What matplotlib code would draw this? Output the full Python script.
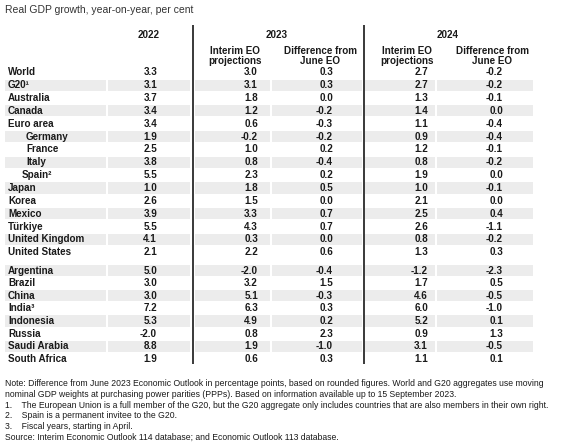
import matplotlib
matplotlib.use("Agg")
import matplotlib.pyplot as plt
from matplotlib.patches import Rectangle

plt.rcParams['font.family'] = ['Liberation Sans', 'DejaVu Sans']

title = "Real GDP growth, year-on-year, per cent"

# G20 members and aggregates
group1 = ["World", "G20\u00b9", "Australia", "Canada", "Euro area", "Germany", "France",
          "Italy", "Spain\u00b2", "Japan", "Korea", "Mexico", "T\u00fcrkiye",
          "United Kingdom", "United States"]
g1_2022 = [3.3, 3.1, 3.7, 3.4, 3.4, 1.9, 2.5, 3.8, 5.5, 1.0, 2.6, 3.9, 5.5, 4.1, 2.1]
g1_2023 = [3.0, 3.1, 1.8, 1.2, 0.6, -0.2, 1.0, 0.8, 2.3, 1.8, 1.5, 3.3, 4.3, 0.3, 2.2]
g1_d2023 = [0.3, 0.3, 0.0, -0.2, -0.3, -0.2, 0.2, -0.4, 0.2, 0.5, 0.0, 0.7, 0.7, 0.0, 0.6]
g1_2024 = [2.7, 2.7, 1.3, 1.4, 1.1, 0.9, 1.2, 0.8, 1.9, 1.0, 2.1, 2.5, 2.6, 0.8, 1.3]
g1_d2024 = [-0.2, -0.2, -0.1, 0.0, -0.4, -0.4, -0.1, -0.2, 0.0, -0.1, 0.0, 0.4, -1.1, -0.2, 0.3]
indented = ["Germany", "France", "Italy", "Spain\u00b2"]

group2 = ["Argentina", "Brazil", "China", "India\u00b3", "Indonesia", "Russia",
          "Saudi Arabia", "South Africa"]
g2_2022 = [5.0, 3.0, 3.0, 7.2, 5.3, -2.0, 8.8, 1.9]
g2_2023 = [-2.0, 3.2, 5.1, 6.3, 4.9, 0.8, 1.9, 0.6]
g2_d2023 = [-0.4, 1.5, -0.3, 0.3, 0.2, 2.3, -1.0, 0.3]
g2_2024 = [-1.2, 1.7, 4.6, 6.0, 5.2, 0.9, 3.1, 1.1]
g2_d2024 = [-2.3, 0.5, -0.5, -1.0, 0.1, 1.3, -0.5, 0.1]

notes = [
    "Note: Difference from June 2023 Economic Outlook in percentage points, based on rounded figures. World and G20 aggregates use moving",
    "nominal GDP weights at purchasing power parities (PPPs). Based on information available up to 15 September 2023.",
    "1.    The European Union is a full member of the G20, but the G20 aggregate only includes countries that are also members in their own right.",
    "2.    Spain is a permanent invitee to the G20.",
    "3.    Fiscal years, starting in April.",
    "Source: Interim Economic Outlook 114 database; and Economic Outlook 113 database.",
]

W, H = 566, 446
fig = plt.figure(figsize=(W / 100, H / 100), dpi=100)
ax = fig.add_axes([0, 0, 1, 1])
ax.set_xlim(0, W)
ax.set_ylim(H, 0)
ax.axis('off')

txt = '#1a1a1a'
band = '#ececec'
fs = 7.1

ax.text(5, 10, title, fontsize=7.5, color='#333333', va='center', ha='left')

# headers
ax.text(149, 35, "2022", fontsize=fs, weight='bold', ha='center', va='center', color=txt)
ax.text(277, 35, "2023", fontsize=fs, weight='bold', ha='center', va='center', color=txt)
ax.text(448, 35, "2024", fontsize=fs, weight='bold', ha='center', va='center', color=txt)
for cx, l1, l2 in [(235, "Interim EO", "projections"), (320, "Difference from", "June EO"),
                   (407, "Interim EO", "projections"), (492, "Difference from", "June EO")]:
    ax.text(cx, 50.5, l1, fontsize=fs, weight='bold', ha='center', va='center', color=txt)
    ax.text(cx, 61.5, l2, fontsize=fs, weight='bold', ha='center', va='center', color=txt)

segs = [(5, 106), (108, 190), (195, 270), (272, 362), (365, 435), (437, 533)]
col_x = [157, 258, 333, 428, 503]


def draw_group(names, cols, y0, pitch, shade_odd):
    for i, name in enumerate(names):
        y = y0 + i * pitch
        if (i % 2 == 1) == shade_odd:
            for a, b in segs:
                ax.add_patch(Rectangle((a, y - 5.6), b - a, 11.2, color=band, lw=0, zorder=0))
        x = 8
        if name in indented:
            x = 22 if name.startswith("Spain") else 26
        ax.text(x, y, name, fontsize=fs, weight='bold', ha='left', va='center', color=txt)
        for cx, vals in zip(col_x, cols):
            ax.text(cx, y, f"{vals[i]:.1f}", fontsize=fs, weight='bold',
                    ha='right', va='center', color=txt)


draw_group(group1, [g1_2022, g1_2023, g1_d2023, g1_2024, g1_d2024], 72.3, 12.86, True)
draw_group(group2, [g2_2022, g2_2023, g2_d2023, g2_2024, g2_d2024], 270.6, 12.62, False)

for x in (193, 364):
    ax.plot([x, x], [25, 364], color='#2a2a2a', lw=1.3, solid_capstyle='butt')

note_y = [383, 394.5, 405.5, 416, 426.5, 437]
for y, line in zip(note_y, notes):
    ax.text(5, y, line, fontsize=6.25, color=txt, ha='left', va='center')

fig.savefig("out.png", dpi=100)
